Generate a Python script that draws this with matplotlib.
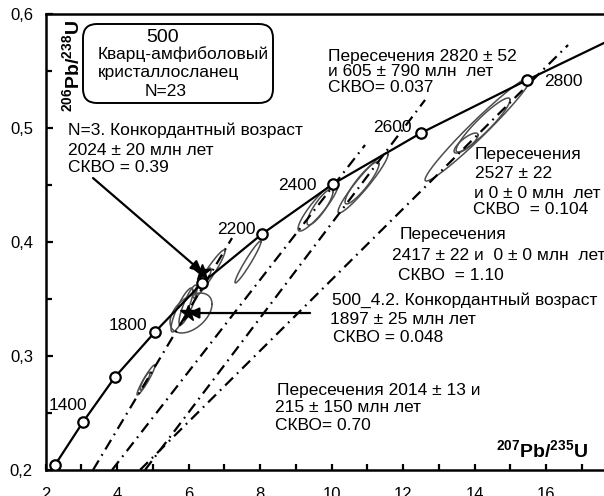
import numpy as np
import matplotlib.pyplot as plt
from matplotlib.patches import FancyBboxPatch
from matplotlib.transforms import IdentityTransform

plt.rcParams['font.family'] = ['Liberation Sans', 'DejaVu Sans']
plt.rcParams['mathtext.fontset'] = 'custom'
plt.rcParams['mathtext.rm'] = 'Liberation Sans'
plt.rcParams['mathtext.bf'] = 'Liberation Sans:bold'

W, H = 604, 496

# concordia points (Ma), plus where the curve leaves the frame
conc_age = [1200, 1400, 1600, 1800, 2000, 2200, 2400, 2600, 2800]
conc_x = [2.266, 3.049, 3.944, 5.063, 6.378, 8.056, 10.042, 12.50, 15.47]
conc_y = [0.2044, 0.2421, 0.2816, 0.3211, 0.364, 0.407, 0.4509, 0.4956, 0.5421]
curve_x = conc_x + [17.62]
curve_y = conc_y + [0.5746]
age_labels = ['1400', '1800', '2200', '2400', '2600', '2800']

# discordia lines: 2014, 2417, 2527, 2820 Ma
disc_x0 = [3.329, 3.860, 4.783, 4.643]
disc_y0 = [0.200, 0.200, 0.200, 0.200]
disc_x1 = [7.217, 10.937, 12.615, 16.615]
disc_y1 = [0.4035, 0.4851, 0.5246, 0.5728]

# error ellipses: centre, half-range in x and y, correlation
ell_x = [4.811, 4.783, 6.070, 5.818, 5.986, 6.573, 6.406, 7.664,
         9.622, 9.678, 10.881, 10.853, 14.098, 14.238, 13.762]
ell_y = [0.279, 0.278, 0.3377, 0.3404, 0.3447, 0.372, 0.3649, 0.3825,
         0.4307, 0.4307, 0.4518, 0.4518, 0.4991, 0.5026, 0.4868]
ell_sx = [0.252, 0.14, 0.587, 0.308, 0.252, 0.448, 0.224, 0.364,
          0.559, 0.364, 0.699, 0.476, 1.483, 0.755, 0.336]
ell_sy = [0.0132, 0.0079, 0.0175, 0.0193, 0.0175, 0.0211, 0.0123, 0.0184,
          0.0211, 0.0158, 0.0263, 0.0184, 0.0456, 0.0237, 0.0088]
ell_rho = [0.95, 0.9, 0.45, 0.85, 0.85, 0.95, 0.88, 0.965,
           0.9, 0.86, 0.95, 0.9, 0.975, 0.93, 0.8]

# concordant ages (stars)
star_x = [6.378, 5.986]
star_y = [0.3737, 0.3377]

fig = plt.figure(figsize=(W / 100, H / 100), dpi=100)
ax = fig.add_axes([45.5 / W, 26 / H, 1 - 45.5 / W, 456 / H])
ax.set_xlim(2, 17.62)
ax.set_ylim(0.2, 0.6)

t = np.linspace(0, 2 * np.pi, 240)
for cx, cy, sx, sy, r in zip(ell_x, ell_y, ell_sx, ell_sy, ell_rho):
    ex = cx + sx * np.cos(t)
    ey = cy + sy * (r * np.cos(t) + np.sqrt(1 - r * r) * np.sin(t))
    ax.plot(ex, ey, color='#4d4d4d', lw=1.1, zorder=2)

for x0, y0, x1, y1 in zip(disc_x0, disc_y0, disc_x1, disc_y1):
    ax.plot([x0, x1], [y0, y1], color='k', lw=1.6,
            dashes=(5, 2.5, 0.8, 2.5), zorder=3)

ax.plot(curve_x, curve_y, color='k', lw=1.6, zorder=4)
ax.plot(conc_x, conc_y, 'o', ms=7.5, mfc='white', mec='k', mew=1.6, zorder=5)
ax.plot(star_x, star_y, '*', ms=12, color='k', zorder=6)

# arrows to the concordant ages
ax.annotate('', xy=(star_x[0], star_y[0]), xytext=(3.329, 0.4561),
            arrowprops=dict(arrowstyle='-|>', color='k', lw=1.6,
                            mutation_scale=16, shrinkA=0, shrinkB=0), zorder=7)
ax.annotate('', xy=(star_x[1], star_y[1]), xytext=(9.40, star_y[1]),
            arrowprops=dict(arrowstyle='-|>', color='k', lw=1.6,
                            mutation_scale=16, shrinkA=0, shrinkB=0), zorder=7)

# axes styling
for s in ['left', 'bottom', 'top']:
    ax.spines[s].set_linewidth(1.8)
ax.spines['right'].set_visible(False)
ax.set_xticks(np.arange(2, 17, 2))
ax.set_xticks(np.arange(3, 18, 1), minor=True)
ax.set_yticks([0.2, 0.3, 0.4, 0.5, 0.6])
ax.set_yticks([0.25, 0.35, 0.45, 0.55], minor=True)
ax.yaxis.set_major_formatter(plt.FuncFormatter(lambda v, p: f'{v:.1f}'.replace('.', ',')))
ax.tick_params(axis='x', which='both', direction='in', length=4, width=1.6,
               pad=12, labelsize=12)
ax.tick_params(axis='y', which='major', direction='in', length=5, width=1.6,
               pad=9, labelsize=12)
ax.tick_params(axis='y', which='minor', direction='in', length=4, width=1.6)


def ftext(px, py, s, size=12.5, ha='left', **kw):
    fig.text(px / W, 1 - py / H, s, ha=ha, va='center', fontsize=size, **kw)


# title box
box = FancyBboxPatch((83, H - 103), 190, 79, boxstyle='round,pad=0,rounding_size=14',
                     transform=IdentityTransform(), fc='white', ec='k', lw=1.4, zorder=8)
fig.add_artist(box)
ftext(163, 37, '500', size=14, ha='center', zorder=9)
ftext(98, 54, 'Кварц-амфиболовый', zorder=9)
ftext(98, 73, 'кристаллосланец', zorder=9)
ftext(166, 92, 'N=23', ha='center', zorder=9)

# annotation blocks
ftext(68, 130, 'N=3. Конкордантный возраст')
ftext(68, 150, '2024 ± 20 млн лет')
ftext(68, 168, 'СКВО = 0.39')

ftext(328, 57, 'Пересечения 2820 ± 52')
ftext(328, 72, 'и 605 ± 790 млн  лет')
ftext(328, 87, 'СКВО= 0.037')

ftext(475, 155, 'Пересечения')
ftext(475, 173, '2527 ± 22')
ftext(474, 193, 'и 0 ± 0 млн  лет')
ftext(473, 210, 'СКВО  = 0.104')

ftext(400, 234, 'Пересечения')
ftext(392, 255, '2417 ± 22 и  0 ± 0 млн  лет')
ftext(398, 275, 'СКВО  = 1.10')

ftext(332, 300, '500_4.2. Конкордантный возраст')
ftext(330, 320, '1897 ± 25 млн лет')
ftext(333, 338, 'СКВО = 0.048')

ftext(277, 390, 'Пересечения 2014 ± 13 и')
ftext(275, 407, '215 ± 150 млн лет')
ftext(275, 425, 'СКВО= 0.70')

# age labels on the concordia
age_pos = [(68, 405), (128, 326), (236, 230), (297, 185), (392, 127), (563, 82)]
for (px, py), lab in zip(age_pos, age_labels):
    ftext(px, py, lab, ha='center')

# axis titles
fig.text(588 / W, 1 - 450 / H, r'$\mathbf{{}^{207}Pb/{}^{235}U}$', ha='right',
         va='center', fontsize=14)
fig.text(72 / W, 1 - 66 / H, r'$\mathbf{{}^{206}Pb/{}^{238}U}$', ha='center',
         va='center', fontsize=14, rotation=90)

fig.savefig('out.png', dpi=100)
